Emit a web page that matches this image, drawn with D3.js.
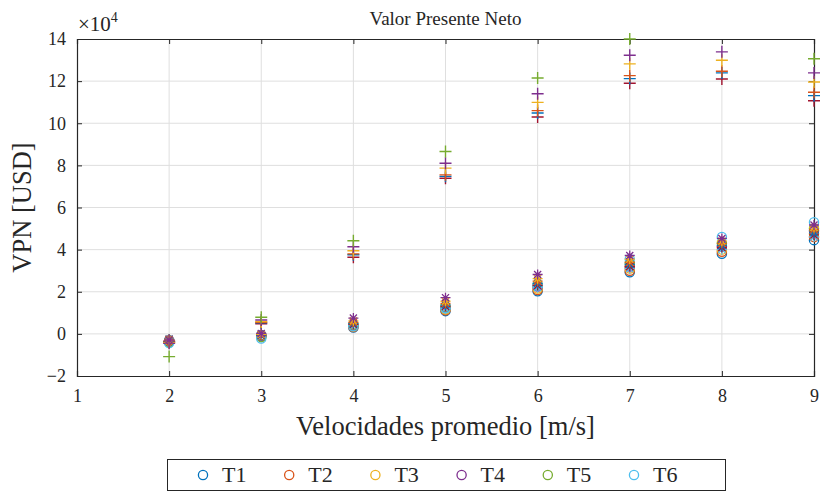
<!DOCTYPE html>
<html><head><meta charset="utf-8">
<script src="https://cdn.jsdelivr.net/npm/d3@7"></script>
<style>body{margin:0;background:#fff}svg{display:block}text{font-family:"Liberation Serif","DejaVu Serif",serif;fill:#262626}</style>
</head><body><svg id="c" width="822" height="493"></svg>
<script>
const speeds = [2,3,4,5,6,7,8,9];
const series = ["T1","T2","T3","T4","T5","T6"];
// circles (o), values in USD
const vpnO = {
  T1:[-3000,-500,3000,10800,20200,29200,38000,44500],
  T2:[-3200,-800,3300,11200,20800,30000,39000,46000],
  T3:[-3500,-1000,3600,11700,21500,31000,40000,47500],
  T4:[-3700,-1200,4000,12500,22500,32000,41500,49000],
  T5:[-4000,-1500,4400,13000,23500,33500,43000,50000],
  T6:[-4300,-2200,3600,12200,23000,35500,46000,53000]
};
// plus (+)
const vpnP = {
  T1:[-3500,4800,36400,73900,103000,119000,121000,110700],
  T2:[-3800,5200,37600,74800,104900,121200,123900,113100],
  T3:[-4000,5500,38000,75500,106000,122600,124700,114700],
  T4:[-4200,5800,39500,78700,109900,128200,129900,119600],
  T5:[-4500,6600,41400,81000,114000,132300,133900,123900],
  T6:[-10800,7900,44200,86600,121500,140000,146000,130600]
};
// asterisk (*)
const vpnS = {
  T1:[-2500,-1000,4000,12000,22000,31000,40000,46000],
  T2:[-2600,-800,4500,13000,23000,32000,41000,47000],
  T3:[-2700,-600,5000,13800,24000,33000,42000,48000],
  T4:[-2800,-400,5500,14500,25000,34000,43000,49500],
  T5:[-2850,-200,6200,15500,26200,35500,44000,50500],
  T6:[-2900,200,7500,17200,28200,37200,45300,51700]
};
const xTicks = [1,2,3,4,5,6,7,8,9];
const yTicks = [-2,0,2,4,6,8,10,12,14];
const colors = ["#0072BD","#D95319","#EDB120","#7E2F8E","#77AC30","#4DBEEE","#A2142F"];
// colour index per series for each marker set (MATLAB colour-order continuation)
const colO = [0,1,2,3,4,5], colP = [6,0,1,2,3,4], colS = [5,6,0,1,2,3];

const svg = d3.select("#c");
const L=77,R=814,T=39,B=376;
const x = d3.scaleLinear().domain([1,9]).range([L,R]);
const y = d3.scaleLinear().domain([-20000,140000]).range([B,T]);
const axc="#262626";

// grid
const g = svg.append("g");
g.selectAll(".gx").data(xTicks.slice(1,-1)).join("line").attr("x1",d=>x(d)).attr("x2",d=>x(d)).attr("y1",T).attr("y2",B).attr("stroke","#dfdfdf").attr("stroke-width",1);
g.selectAll(".gy").data(yTicks.slice(1,-1)).join("line").attr("y1",d=>y(d*1e4)).attr("y2",d=>y(d*1e4)).attr("x1",L).attr("x2",R).attr("stroke","#dfdfdf").attr("stroke-width",1);

// axes via d3 axes (inward ticks)
const ax = svg.append("g");
const fmt = d=>d3.format("d")(d/1e4);
ax.append("g").attr("transform",`translate(0,${B})`).call(d3.axisBottom(x).tickValues(xTicks).tickSize(-5).tickPadding(13).tickFormat(d3.format("d")));
ax.append("g").attr("transform",`translate(0,${T})`).call(d3.axisTop(x).tickValues(xTicks).tickSize(-5).tickFormat(""));
ax.append("g").attr("transform",`translate(${L},0)`).call(d3.axisLeft(y).tickValues(yTicks.map(v=>v*1e4)).tickSize(-5).tickPadding(11).tickFormat(fmt));
ax.append("g").attr("transform",`translate(${R},0)`).call(d3.axisRight(y).tickValues(yTicks.map(v=>v*1e4)).tickSize(-5).tickFormat(""));
ax.selectAll("path.domain").attr("stroke",axc).attr("stroke-width",1.2);
ax.selectAll(".tick line").attr("stroke",axc).attr("stroke-width",1);
ax.selectAll(".tick text").attr("font-size",18).attr("fill",axc).style("font-family",'"Liberation Serif",serif');

// markers
const inR = v=>v>=-20000 && v<=140000;
const mk = svg.append("g");
function pts(obj){return series.flatMap((s,i)=>speeds.map((sp,j)=>({s,i,x:sp,v:obj[s][j]})).filter(p=>inR(p.v)));}
mk.selectAll("circle.o").data(pts(vpnO)).join("circle").attr("cx",d=>x(d.x)).attr("cy",d=>y(d.v)).attr("r",4.6).attr("fill","none").attr("stroke",d=>colors[colO[d.i]]).attr("stroke-width",1.3);
const plusPath = (cx,cy,r)=>`M${cx-r},${cy}H${cx+r}M${cx},${cy-r}V${cy+r}`;
mk.selectAll("path.p").data(pts(vpnP)).join("path").attr("d",d=>plusPath(x(d.x),y(d.v),6)).attr("stroke",d=>colors[colP[d.i]]).attr("stroke-width",1.4).attr("fill","none");
const starPath = (cx,cy,r)=>{const a=r*0.7071;return plusPath(cx,cy,r)+`M${cx-a},${cy-a}L${cx+a},${cy+a}M${cx-a},${cy+a}L${cx+a},${cy-a}`;};
mk.selectAll("path.s").data(pts(vpnS)).join("path").attr("d",d=>starPath(x(d.x),y(d.v),5)).attr("stroke",d=>colors[colS[d.i]]).attr("stroke-width",1.3).attr("fill","none");

// texts
svg.append("text").attr("x",(L+R)/2).attr("y",25).attr("text-anchor","middle").attr("font-size",19).text("Valor Presente Neto");
const ex = svg.append("text").attr("x",78).attr("y",31).attr("font-size",21);
ex.append("tspan").text("×10");
ex.append("tspan").attr("dy",-9).attr("font-size",14).text("4");
svg.append("text").attr("x",(L+R)/2).attr("y",435).attr("text-anchor","middle").attr("font-size",26.5).text("Velocidades promedio [m/s]");
svg.append("text").attr("transform",`translate(31,${(T+B)/2}) rotate(-90)`).attr("text-anchor","middle").attr("font-size",26.5).text("VPN [USD]");

// legend
const lg = svg.append("g");
lg.append("rect").attr("x",167.5).attr("y",459.5).attr("width",558).attr("height",31).attr("fill","#fff").attr("stroke",axc).attr("stroke-width",1);
const lx = d3.scalePoint().domain(series).range([203,634]);
series.forEach((s,i)=>{
  lg.append("circle").attr("cx",lx(s)).attr("cy",475).attr("r",4.6).attr("fill","none").attr("stroke",colors[colO[i]]).attr("stroke-width",1.3);
  lg.append("text").attr("x",lx(s)+19).attr("y",482).attr("font-size",22).text(s);
});
</script></body></html>
